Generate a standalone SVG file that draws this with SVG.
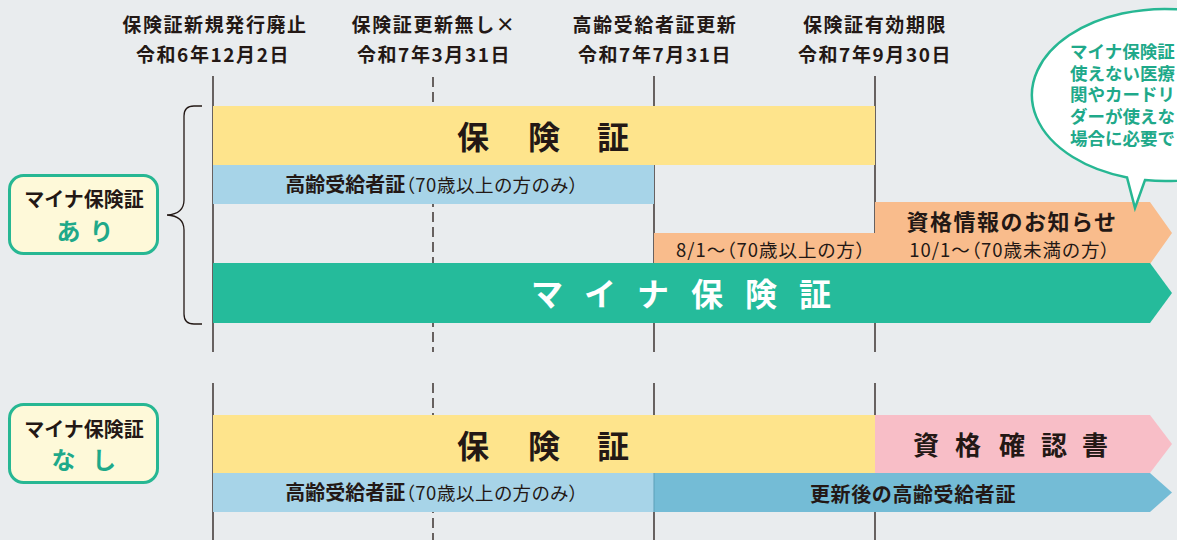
<svg xmlns="http://www.w3.org/2000/svg" width="1177" height="540" viewBox="0 0 1177 540">
<defs>
<style>
text{font-family:"Noto Sans CJK JP","Noto Sans",sans-serif;fill:#231815}
.hd{font-size:19px;font-weight:700;text-anchor:middle;letter-spacing:1.6px}
.big{font-size:32px;font-weight:700;text-anchor:middle}
.mid{font-size:20px;font-weight:700;text-anchor:middle}
.pr{font-size:18.5px;font-weight:400;font-feature-settings:"palt";letter-spacing:0.6px}
.sm{font-size:18.5px;text-anchor:middle;font-feature-settings:"palt";letter-spacing:1px}
.lbl{font-size:20px;font-weight:700;text-anchor:middle}
.gr{font-size:24px;font-weight:700;fill:#1fa98a;text-anchor:middle}
.bub{font-size:17.5px;font-weight:700;fill:#1fa98a}
.ln{stroke:#231815;stroke-width:1.3;fill:none}
.dash{stroke-dasharray:10 5}
.box{fill:#fef9d9;stroke:#27b793;stroke-width:3}
</style>
</defs>
<rect width="1177" height="540" fill="#e9ecee"/>

<g id="headers">
<g id="h1"><text class="hd" x="215" y="32">保険証新規発行廃止</text><text class="hd" x="213" y="62">令和6年12月2日</text></g>
<g id="h2"><text class="hd" x="434" y="32">保険証更新無し×</text><text class="hd" x="434" y="62">令和7年3月31日</text></g>
<g id="h3"><text class="hd" x="655" y="32">高齢受給者証更新</text><text class="hd" x="655" y="62">令和7年7月31日</text></g>
<g id="h4"><text class="hd" x="875" y="32">保険証有効期限</text><text class="hd" x="875" y="62">令和7年9月30日</text></g>
</g>

<g id="connectors">
<line class="ln" x1="213" y1="76" x2="213" y2="352"/>
<line class="ln dash" x1="433" y1="77" x2="433" y2="352"/>
<line class="ln" x1="654" y1="76" x2="654" y2="352"/>
<line class="ln" x1="875" y1="76" x2="875" y2="352"/>
<line class="ln" x1="213" y1="383" x2="213" y2="540"/>
<line class="ln dash" x1="433" y1="383" x2="433" y2="540"/>
<line class="ln" x1="654" y1="383" x2="654" y2="540"/>
<line class="ln" x1="875" y1="383" x2="875" y2="540"/>
<path id="bracket" class="ln" d="M202,106 H194 Q184,106 184,116 V200 Q184,214 167,215 Q184,216 184,230 V314 Q184,324 194,324 H202"/>
</g>

<g id="label-ari">
<rect class="box" x="9.5" y="175.5" width="148" height="78" rx="14"/>
<text class="lbl" x="84" y="207">マイナ保険証</text>
<text class="gr" x="68.5 101.5" y="240">あり</text>
</g>

<g id="label-nashi">
<rect class="box" x="9.5" y="404.5" width="148" height="78" rx="14"/>
<text class="lbl" x="84" y="437">マイナ保険証</text>
<text class="gr" x="63.5 104" y="469">なし</text>
</g>

<g id="bar-hokensho-top">
<rect x="213" y="106" width="662" height="59" fill="#fee48c"/>
<text class="big" x="473 544 613" y="149">保険証</text>
</g>

<g id="bar-korei-top">
<rect x="213" y="165" width="441" height="39" fill="#a7d4e8"/>
<text class="mid" x="432" y="192">高齢受給者証<tspan class="pr">（70歳以上の方のみ）</tspan></text>
</g>

<g id="bar-shikaku-info">
<polygon points="875,202 1150,202 1172,233 1150,264 654,264 654,233 875,233" fill="#f9bc8c"/>
<text x="1012" y="230" style="font-size:22px;font-weight:700;text-anchor:middle;letter-spacing:1.5px">資格情報のお知らせ</text>
<text class="sm" x="771" y="257">8/1～（70歳以上の方）</text>
<text class="sm" x="1010" y="257">10/1～（70歳未満の方）</text>
</g>

<g id="bar-myna">
<polygon points="213,263 1150,263 1172,293 1150,323 213,323" fill="#25bb9b"/>
<text class="big" x="547 600 653 707 761 815" y="306" style="fill:#fff">マイナ保険証</text>
</g>

<g id="bubble">
<path d="M1145,180 A133,86 0 1 0 1127,177.4 L1135,208 Z" fill="#fff" stroke="#27b793" stroke-width="2.5" stroke-linejoin="miter"/>
<text class="bub" x="1070" y="58">マイナ保険証<tspan x="1070" dy="21.7">使えない医療</tspan><tspan x="1070" dy="21.7">関やカードリ</tspan><tspan x="1070" dy="21.7">ダーが使えな</tspan><tspan x="1070" dy="21.7">場合に必要で</tspan></text>
</g>

<g id="bar-hokensho-bottom">
<rect x="213" y="415" width="662" height="58" fill="#fee48c"/>
<text class="big" x="473 544 613" y="458">保険証</text>
</g>

<g id="bar-shikaku-kakunin">
<polygon points="875,415 1150,415 1172,444 1150,473 875,473" fill="#f8bec7"/>
<text x="926 968 1012 1054 1095" y="455" style="font-size:26px;font-weight:700;text-anchor:middle">資格確認書</text>
</g>

<g id="bar-korei-bottom">
<rect x="213" y="473" width="441" height="39" fill="#a7d4e8"/>
<text class="mid" x="432" y="500">高齢受給者証<tspan class="pr">（70歳以上の方のみ）</tspan></text>
</g>

<g id="bar-korei-new">
<polygon points="654,473 1150,473 1172,492.5 1150,512 654,512" fill="#74bcd6"/>
<line x1="654" y1="473" x2="654" y2="512" stroke="#5a9fb8" stroke-width="1"/>
<text x="913" y="502" style="font-size:20px;font-weight:700;text-anchor:middle;letter-spacing:0.6px">更新後の高齢受給者証</text>
</g>
</svg>
